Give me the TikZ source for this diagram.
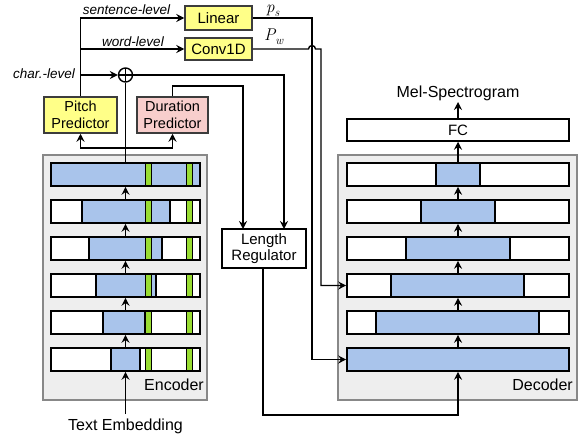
\documentclass[tikz,border=0pt]{standalone}
\usepackage{fontspec}
\setmainfont{Liberation Sans}
\newfontfamily\lmserif{Latin Modern Roman}
\usetikzlibrary{arrows.meta}

\definecolor{rowblue}{RGB}{169,196,235}
\definecolor{barGreen}{RGB}{153,221,51}
\definecolor{predYellow}{RGB}{255,255,136}
\definecolor{predPink}{RGB}{248,206,204}
\definecolor{panelGrey}{RGB}{238,238,238}
\definecolor{panelEdge}{RGB}{136,136,136}
\definecolor{boxEdge}{RGB}{60,60,60}

\newcommand{\varsub}[2]{{\lmserif\itshape #1}\raisebox{-3.5pt}{\fontsize{12}{12}\selectfont\lmserif\itshape #2}}

\begin{document}
\begin{tikzpicture}[x=1pt,y=-1pt,
  conn/.style={line width=1.4pt,black},
  arr/.style={conn,-{Stealth[length=8pt,width=8pt,inset=2.8pt]}},
  panel/.style={draw=panelEdge,fill=panelGrey,line width=1.3pt},
  rowframe/.style={draw=black,line width=1.6pt,minimum height=23pt,inner sep=0pt},
  encrow/.style={rowframe,minimum width=149pt},
  decrow/.style={rowframe,minimum width=222pt},
  piece/.style={draw=black,line width=1.2pt},
  gbar/.style={draw=black,line width=0.8pt,fill=barGreen},
  boxtxt/.style={font=\fontsize{15}{16.5}\selectfont},
  plainbox/.style={draw=black,line width=1.5pt,align=center,inner sep=0pt,boxtxt},
  predbox/.style={draw=boxEdge,line width=1.5pt,align=center,inner sep=0pt,font=\fontsize{14.5}{16.5}\selectfont},
  lbl/.style={font=\fontsize{16}{18}\selectfont,inner sep=0pt},
  itl/.style={font=\fontsize{13.5}{15}\selectfont\itshape,inner sep=0pt},
  mathlbl/.style={font=\fontsize{17}{19}\selectfont,inner sep=0pt}
]
\useasboundingbox (0,0) rectangle (583,436);

% ---------- panels ----------
\node[panel,minimum width=164pt,minimum height=245pt,inner sep=0pt] (encpanel) at (125,277.5) {};
\node[panel,minimum width=239pt,minimum height=245pt,inner sep=0pt] (decpanel) at (457.5,277.5) {};

% ---------- encoder rows ----------
\foreach \k/\a/\b in {1/51/200,2/82/170,3/89/162,4/96/156,5/103/145,6/111/140}{
  \pgfmathsetmacro\yt{163+37*(\k-1)}
  \fill[white] (51,\yt) rectangle (200,{\yt+23});
  \draw[piece,fill=rowblue] (\a,\yt) rectangle (\b,{\yt+23});
  \draw[gbar] (145,\yt) rectangle (151,{\yt+23});
  \draw[gbar] (186,\yt) rectangle (192,{\yt+23});
  \node[encrow] (e\k) at (125.5,{\yt+11.5}) {};
}
% ---------- decoder rows ----------
\foreach \k/\a/\b in {1/436/480,2/421/495,3/406/510,4/391/524,5/376/539,6/347/569}{
  \pgfmathsetmacro\yt{163+37*(\k-1)}
  \fill[white] (347,\yt) rectangle (569,{\yt+23});
  \draw[piece,fill=rowblue] (\a,\yt) rectangle (\b,{\yt+23});
  \node[decrow] (d\k) at (458,{\yt+11.5}) {};
}
\foreach \k [evaluate=\k as \j using int(\k+1)] in {1,...,5}{
  \draw[arr] (e\j.north) -- (e\k.south);
  \draw[arr] (d\j.north) -- (d\k.south);
}

\node[lbl,anchor=east] (enclbl) at (204,385) {Encoder};
\node[lbl,anchor=east] (declbl) at (573,385) {Decoder};

% ---------- inputs / outputs ----------
\node[lbl] (textemb) at (125.5,426) {Text Embedding};
\coordinate (embstart) at (125.5,414);
\draw[arr] (embstart) -- (e6.south);

\node[plainbox,minimum width=222pt,minimum height=22pt] (fc) at (458,130) {FC};
\node[lbl] (mel) at (458,93) {Mel-Spectrogram};
\draw[arr] (d1.north) -- (fc.south);
\coordinate (meltip) at (458,102);
\draw[arr] (fc.north) -- (meltip);

% ---------- predictors ----------
\node[predbox,fill=predYellow,minimum width=73pt,minimum height=36pt] (pitch) at (80.5,115) {Pitch\\Predictor};
\node[predbox,fill=predPink,minimum width=71pt,minimum height=36pt] (dur) at (172.5,115) {Duration\\Predictor};

\node[predbox,fill=predYellow,minimum width=67pt,minimum height=24pt,boxtxt] (linear) at (218.5,18) {Linear};
\node[predbox,fill=predYellow,minimum width=67pt,minimum height=22pt,boxtxt] (conv) at (218.5,49) {Conv1D};

\node[draw=black,line width=1.4pt,circle,minimum size=14pt,inner sep=0pt,
      path picture={\draw[line width=1.4pt] (path picture bounding box.north) -- (path picture bounding box.south)
                    (path picture bounding box.west) -- (path picture bounding box.east);}] (plus) at (125.5,75) {};

\node[plainbox,minimum width=84pt,minimum height=39pt] (lr) at (264,248.5) {Length\\Regulator};

% encoder output to predictors and adder
\coordinate (hb) at (125.5,148);
\draw[conn] (e1.north) -- (plus.south);
\draw[arr] (hb) -| (pitch.south);
\draw[arr] (hb) -| (dur.south);

% pitch predictor outputs
\coordinate (ptop) at (80.5,18);
\draw[arr] (pitch.north) -- (ptop) -- (linear.west);
\coordinate (pword) at (80.5,49);
\draw[arr] (pword) -- (conv.west);
\coordinate (pchar) at (80.5,75);
\draw[arr] (pchar) -- (plus.west);

\node[itl] (sl) at (126.5,10) {sentence-level};
\node[itl] (wl) at (133,41.5) {word-level};
\node[itl] (cl) at (44,74) {char.-level};

% adder to length regulator
\coordinate (lrin2) at (284,229);
\draw[arr] (plus.east) -- (284,75) -- (lrin2);
% duration to length regulator
\coordinate (lrin1) at (243,229);
\draw[arr] (dur.north) -- (172.5,86) -- (243,86) -- (lrin1);

% length regulator to decoder
\coordinate (lrout) at (263,268);
\draw[arr] (lrout) -- (263,415) -- (458,415) -- (d6.south);

% pitch embeddings to decoder
\node[mathlbl,anchor=west] (ps) at (266,11) {\varsub{p}{s}};
\node[mathlbl,anchor=west] (pw) at (264,37) {\varsub{P}{w}};
\draw[arr] (linear.east) -- (312,18) -- (312,359.5) -- (d6.west);
\draw[arr] (conv.east) -- (308.5,49) arc[start angle=180,end angle=360,radius=3.5] -- (321,49) -- (321,285.5) -- (d4.west);

\end{tikzpicture}
\end{document}
